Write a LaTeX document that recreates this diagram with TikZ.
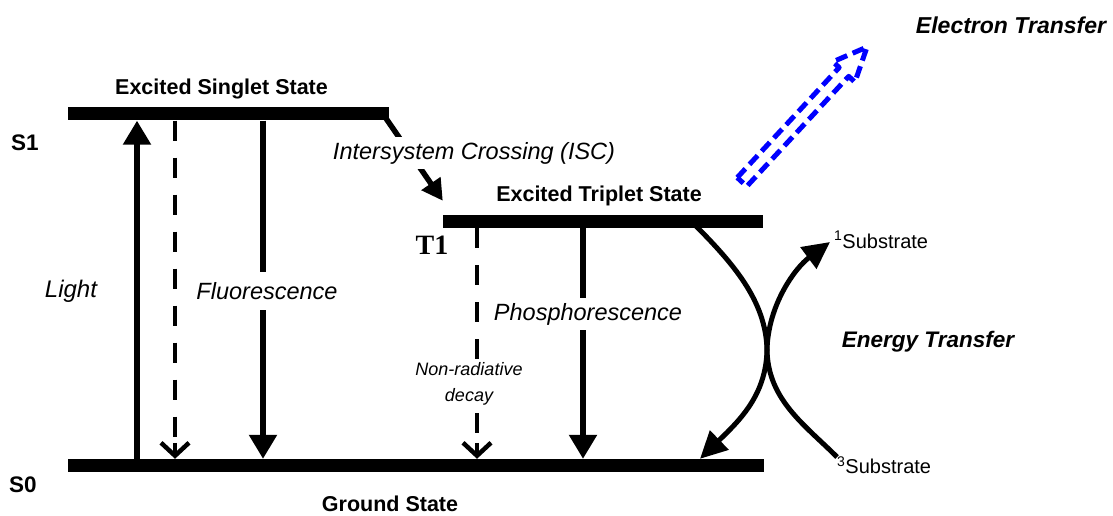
\documentclass[tikz,border=0pt]{standalone}
\usepackage{fontspec}
\setmainfont{Liberation Sans}
\newfontfamily\serifbold{Liberation Serif}
\usetikzlibrary{arrows.meta,positioning}

\begin{document}
\begin{tikzpicture}[
    x=1pt, y=-1pt,
    bar/.style={fill=black, inner sep=0pt, minimum height=13pt},
    title/.style={font=\bfseries\fontsize{21.5}{25}\selectfont, inner sep=1pt},
    level/.style={font=\bfseries\fontsize{22.5}{26}\selectfont, inner sep=1pt},
    proc/.style={font=\itshape\fontsize{23.5}{28}\selectfont, fill=white, inner xsep=3pt, inner ysep=5pt},
    transfer/.style={font=\bfseries\itshape\fontsize{23}{27}\selectfont, inner sep=1pt},
    substr/.style={font=\fontsize{20}{24}\selectfont, inner sep=0pt, anchor=west},
    rad/.style={line width=5.5pt, -{Triangle[width=27pt, length=24pt]}},
    nonrad/.style={line width=4.5pt, dash pattern=on 20pt off 17pt},
    vtip/.style={line width=4.5pt, solid, -{Straight Barb[length=13pt, width=28pt]}},
    curved/.style={line width=5pt}
]
\useasboundingbox (0,0) rectangle (1113,516);
% energy levels
\node[bar, minimum width=321pt] (S1bar) at (228.5,114) {};
\node[bar, minimum width=320pt] (T1bar) at (603,221.5) {};
\node[bar, minimum width=696pt] (S0bar) at (416,465.5) {};
\node[title, above=7pt of S1bar, xshift=-7pt] (singlet) {Excited Singlet State};
\node[title, above=8pt of T1bar, xshift=-4pt] (triplet) {Excited Triplet State};
\node[title] (ground) at (390,504) {Ground State};
\node[level] (S1) at (25,143) {S1};
\node[level] (S0) at (23,485) {S0};
\node[font=\serifbold\bfseries\fontsize{28}{30}\selectfont, inner sep=0pt] (T1) at (432,245) {T1};
% columns of the transitions
\coordinate (cLight) at (137,0);
\coordinate (cDecayS) at (175,0);
\coordinate (cFluo) at (263,0);
\coordinate (cDecayT) at (477,0);
\coordinate (cPhos) at (583,0);
\draw[rad] (S0bar.north -| cLight) -- (S1bar.south -| cLight);
\draw[nonrad] (S1bar.south -| cDecayS) -- ([yshift=20pt]S0bar.north -| cDecayS);
\draw[vtip] ([yshift=16pt]S0bar.north -| cDecayS) -- (S0bar.north -| cDecayS);
\draw[rad] (S1bar.south -| cFluo) -- (S0bar.north -| cFluo);
\draw[nonrad] (T1bar.south -| cDecayT) -- ([yshift=20pt]S0bar.north -| cDecayT);
\draw[vtip] ([yshift=16pt]S0bar.north -| cDecayT) -- (S0bar.north -| cDecayT);
\draw[rad] (T1bar.south -| cPhos) -- (S0bar.north -| cPhos);
\draw[line width=5.5pt, -{Triangle[width=22pt, length=21pt]}] ([shift={(-3pt,2pt)}]S1bar.south east) -- ([yshift=14pt]T1bar.north west);
% labels
\node[font=\itshape\fontsize{24}{28}\selectfont] (light) at (71,291) {Light};
\node[proc, inner ysep=10pt] (fluo) at (267,291) {Fluorescence};
\node[proc] (phos) at (588,314) {Phosphorescence};
\node[proc] (isc) at (474,153) {Intersystem Crossing (ISC)};
\node[proc, font=\itshape\fontsize{18}{26}\selectfont, align=center, inner xsep=1pt, inner ysep=3pt] (decay) at (469,384) {Non-radiative\\decay};
% energy transfer to the substrate
\node[substr] (sub1) at (834,240) {\textsuperscript{1}Substrate};
\node[substr] (sub3) at (837,465) {\textsuperscript{3}Substrate};
\node[transfer, font=\bfseries\itshape\fontsize{22.5}{27}\selectfont] (energy) at (928,342) {Energy Transfer};
\coordinate (cross) at (767,350);
\coordinate (triplend) at (692,222);
\coordinate (subend) at (837,457);
\draw[curved] (triplend) .. controls (732,262) and (766,300) .. (cross) .. controls (768,400) and (805,425) .. (subend);
\draw[curved, {Triangle[width=26pt, length=27pt]}-{Triangle[width=26pt, length=27pt]}] (S0bar.north -| 700,0) .. controls (740,420) and (766,395) .. (cross) .. controls (768,305) and (795,268) .. (830,242);
% electron transfer
\node[transfer] (electron) at (1011,25) {Electron Transfer};
\begin{scope}[shift={(742,182)}, rotate=47.2]
\draw[blue, line width=5pt, dash pattern=on 12pt off 6pt, line join=round]
  (0,-6.5) -- (150,-6.5) -- (150,-15) -- (184,0) -- (150,15) -- (150,6.5) -- (0,6.5) -- cycle;
\end{scope}
\end{tikzpicture}
\end{document}
